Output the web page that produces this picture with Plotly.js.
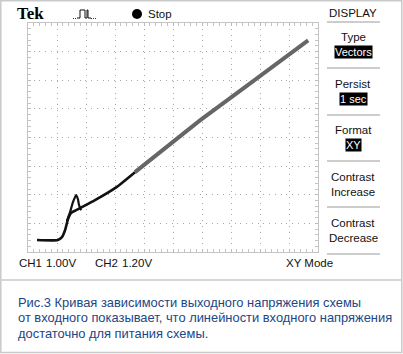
<!DOCTYPE html>
<html><head><meta charset="utf-8">
<script src="https://cdn.plot.ly/plotly-3.0.1.min.js"></script>
<style>html,body{margin:0;padding:0;background:#fff}#chart{width:403px;height:354px}</style>
</head><body><div id="chart"></div>
<script>
// Trace data in screen divisions (x: 0..10, y: 0..8)
const lowTraceX = [0.31, 1.03, 1.17, 1.28, 1.38, 1.48, 1.66, 1.79, 2.31, 3.00, 3.69];
const lowTraceY = [0.42, 0.42, 0.52, 0.77, 1.15, 1.36, 1.46, 1.53, 1.81, 2.23, 2.79];
const spikeX = [1.34, 1.45, 1.55, 1.66, 1.72, 1.76, 1.83];
const spikeY = [1.08, 1.39, 1.74, 1.99, 1.85, 1.64, 1.46];
const persistX = [3.69, 4.55, 5.93, 7.66, 9.66];
const persistY = [2.79, 3.48, 4.60, 5.89, 7.39];
const xDivisions = [0, 10];
const yDivisions = [0, 8];
const ch1Label = ["CH1", "1.00V"];
const ch2Label = ["CH2", "1.20V"];
const menuTitle = "DISPLAY";
const menuItems = [["Type", "Vectors", true], ["Persist", "1 sec", true], ["Format", "XY", true], ["Contrast", "Increase", false], ["Contrast", "Decrease", false]];
const captionLines = ["Рис.3 Кривая зависимости выходного напряжения схемы",
  "от входного показывает, что линейности входного напряжения",
  "достаточно для питания схемы."];

const W = 403, H = 354;
const PX = x => x / W;
const PY = y => 1 - y / H;
const plotL = 28, plotR = 318, plotT = 23, plotB = 252;
const scopeFont = "Liberation Sans, Arial, sans-serif";

const traces = [
  {x: persistX, y: persistY, mode: 'lines', line: {color: '#666', width: 4}, hoverinfo: 'skip'},
  {x: lowTraceX, y: lowTraceY, mode: 'lines', line: {color: '#111', width: 2.6, shape: 'spline', smoothing: 0.6}, hoverinfo: 'skip'},
  {x: spikeX, y: spikeY, mode: 'lines', line: {color: '#111', width: 2.2, shape: 'spline', smoothing: 0.6}, hoverinfo: 'skip'}
];

const gridCol = '#a8a8a8';
const baseX = {domain: [PX(plotL), PX(plotR)], range: xDivisions, dtick: 1, showgrid: true, gridcolor: gridCol, griddash: '1px,4.8px', gridwidth: 1,
  zeroline: false, showline: true, linecolor: '#c4c4c4', linewidth: 1, mirror: 'allticks', ticks: 'inside', ticklen: 3, tickcolor: '#bbb',
  minor: {ticks: 'inside', dtick: 0.2, ticklen: 3, tickcolor: '#c4c4c4', showgrid: false}, showticklabels: false, fixedrange: true};
const baseY = {domain: [PY(plotB), PY(plotT)], range: yDivisions, dtick: 1, showgrid: true, gridcolor: gridCol, griddash: '1px,4.74px', gridwidth: 1,
  zeroline: false, showline: true, linecolor: '#c4c4c4', linewidth: 1, mirror: 'allticks', ticks: 'inside', ticklen: 3, tickcolor: '#bbb',
  minor: {ticks: 'inside', dtick: 0.2, ticklen: 3, tickcolor: '#c4c4c4', showgrid: false}, showticklabels: false, fixedrange: true};
const midY = (PY(plotB) + PY(plotT)) / 2;
const midX = (PX(plotL) + PX(plotR)) / 2;
const centerAx = (side, pos) => ({overlaying: side === 'bottom' || side === 'top' ? 'x' : 'y', anchor: 'free', position: pos, side: side,
  range: side === 'bottom' || side === 'top' ? xDivisions : yDivisions, showgrid: false, zeroline: false, showline: false, showticklabels: false,
  ticks: 'outside', dtick: 1, ticklen: 2, tickcolor: '#999', minor: {ticks: 'outside', dtick: 0.2, ticklen: 2, tickcolor: '#999'}, fixedrange: true});

const ann = [];
const A = (text, x, y, opts) => ann.push(Object.assign({text: text, x: PX(x), y: PY(y), xref: 'paper', yref: 'paper', showarrow: false,
  xanchor: 'left', yanchor: 'middle', font: {family: scopeFont, size: 11.5, color: '#111'}}, opts || {}));

A('<b>Tek</b>', 15, 14, {font: {family: 'Liberation Serif, DejaVu Serif, serif', size: 17, color: '#000'}});
A('Stop', 146, 14, {font: {family: scopeFont, size: 11.5, color: '#111'}});
A(menuTitle, 353, 13, {xanchor: 'center', font: {family: scopeFont, size: 11.5, color: '#111'}});
const itemTop = [37, 84, 130, 177, 223];
menuItems.forEach((it, i) => {
  A(it[0], 353, itemTop[i], {xanchor: 'center', font: {family: scopeFont, size: 11.5, color: '#111'}});
  if (it[2]) {
    A(it[1], 353, itemTop[i] + 14.5, {xanchor: 'center', bgcolor: '#000', borderpad: 0, font: {family: scopeFont, size: 11, color: '#fff'}});
  } else {
    A(it[1], 353, itemTop[i] + 15, {xanchor: 'center', font: {family: scopeFont, size: 11.5, color: '#111'}});
  }
});
A(ch1Label[0], 17, 263, {font: {family: scopeFont, size: 11.5, color: '#111'}});
A(ch1Label[1], 44, 263, {font: {family: scopeFont, size: 11.5, color: '#111'}});
A(ch2Label[0], 93, 263, {font: {family: scopeFont, size: 11.5, color: '#111'}});
A(ch2Label[1], 120, 263, {font: {family: scopeFont, size: 11.5, color: '#111'}});
A('XY Mode', 284, 263, {font: {family: scopeFont, size: 11.5, color: '#111'}});
captionLines.forEach((t, i) => A(t, 16, 302 + i * 15.5, {font: {family: 'Liberation Sans, Arial, sans-serif', size: 12.9, color: '#1c4686'}}));

const shapes = [];
const L = (x0, y0, x1, y1, color, w) => shapes.push({type: 'line', xref: 'paper', yref: 'paper', x0: PX(x0), y0: PY(y0), x1: PX(x1), y1: PY(y1), line: {color: color, width: w}});
// outer frame
shapes.push({type: 'rect', xref: 'paper', yref: 'paper', x0: PX(0.8), y0: PY(352.5), x1: PX(401.8), y1: PY(0.8), line: {color: '#c9c9c9', width: 1.5}});
L(0.8, 280, 401.8, 280, '#c9c9c9', 1.5);
// menu separators
[22, 68, 115, 161, 207, 254].forEach(y => L(327, y, 380, y, '#9a9a9a', 1));
// stop dot
shapes.push({type: 'circle', xref: 'paper', yref: 'paper', x0: PX(132), y0: PY(19), x1: PX(142), y1: PY(9), fillcolor: '#000', line: {color: '#000', width: 0}});
// trigger icon
const pth = pts => 'M' + pts.map(p => PX(p[0]) + ',' + PY(p[1])).join(' L');
shapes.push({type: 'path', xref: 'paper', yref: 'paper', path: pth([[77, 18], [80, 18], [80, 10], [85, 10], [85, 18], [87, 18], [87, 10], [88, 10], [88, 18], [91, 18]]), line: {color: '#111', width: 1}});
shapes.push({type: 'line', xref: 'paper', yref: 'paper', x0: PX(73), y0: PY(18.5), x1: PX(77), y1: PY(18.5), line: {color: '#333', width: 1, dash: '1px,1px'}});
shapes.push({type: 'line', xref: 'paper', yref: 'paper', x0: PX(91), y0: PY(18.5), x1: PX(96), y1: PY(18.5), line: {color: '#333', width: 1, dash: '1px,1px'}});

const layout = {
  width: W, height: H, margin: {l: 0, r: 0, t: 0, b: 0}, paper_bgcolor: '#fff', plot_bgcolor: '#fff', showlegend: false,
  xaxis: baseX, yaxis: baseY,
  xaxis2: centerAx('bottom', midY), xaxis3: centerAx('top', midY),
  yaxis2: centerAx('left', midX), yaxis3: centerAx('right', midX),
  annotations: ann, shapes: shapes
};
Plotly.newPlot('chart', traces, layout, {staticPlot: true, displayModeBar: false});
</script></body></html>
